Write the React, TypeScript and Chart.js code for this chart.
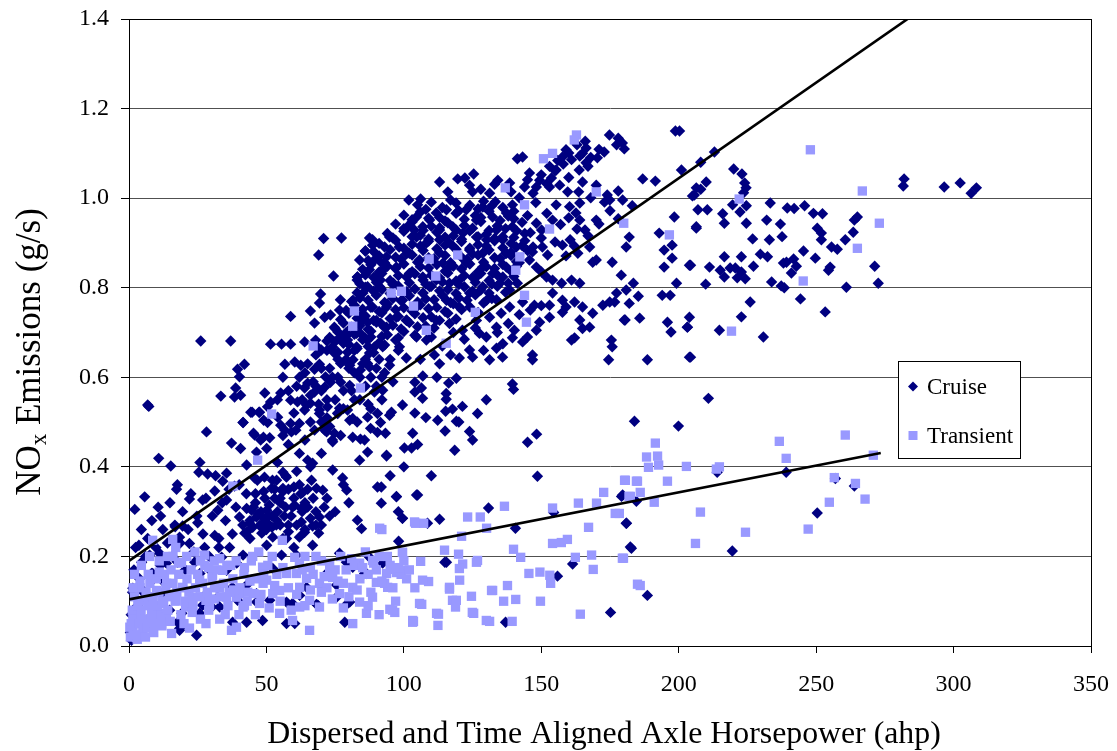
import React, { useEffect, useRef } from 'react';
import { Chart, registerables } from 'chart.js';

Chart.register(...registerables);

const xTickValues = [0, 50, 100, 150, 200, 250, 300, 350];
const yTickValues = [0, 0.2, 0.4, 0.6, 0.8, 1.0, 1.2, 1.4];
const seriesNames = ['Cruise', 'Transient'];
const xTitle = 'Dispersed and Time Aligned Axle Horsepower (ahp)';
const yTitleParts = ['NO', 'x', ' Emissions (g/s)'];

// Cruise points [ahp, g/s]
const cruisePoints: [number, number][] = [
  // right side, upper
  [200.3,1.150],[213,1.103],[208,1.08],[201,1.063],[220,1.065],[223,1.054],[210,1.036],[208,1.02],[224,1.034],[224.5,1.023],[223.6,1.012],[205,1.005],
  [282,1.043],[281.7,1.027],[296.6,1.025],[302.4,1.034],[306.4,1.011],[308.3,1.023],
  [219.6,0.985],[224.6,0.983],[222.3,0.969],[233.3,0.989],[207,0.974],[210.4,0.974],[216,0.965],[216.6,0.944],[224.6,0.944],[206.4,0.933],[232,0.951],[237,0.942],
  [239.5,0.978],[242,0.977],[245.8,0.983],[249,0.966],[252.3,0.965],[226.9,0.909],[233,0.907],[237.6,0.914],[250.4,0.933],[251.9,0.922],[251.9,0.907],[255.6,0.891],
  [257.7,0.886],[260.6,0.907],[263.5,0.924],[263.9,0.951],[265,0.958],[216.6,0.869],[222.8,0.869],[229.7,0.875],[232.3,0.869],[245.4,0.882],[249.7,0.866],
  [204.3,0.850],[211.2,0.846],[215.1,0.839],[218.7,0.844],[220.6,0.844],[222.8,0.835],[216.6,0.824],[221.3,0.822],[224.2,0.820],[227.2,0.848],[238.1,0.855],
  [239.2,0.857],[241.8,0.864],[242.8,0.848],[241,0.833],[255.1,0.846],[254.5,0.839],[271.3,0.848],[233.8,0.813],[237.3,0.804],[238.4,0.80],[209.8,0.808],
  [261,0.801],[272.6,0.81],[226,0.768],[244.3,0.775],[222.8,0.735],[253.3,0.746],[203.2,0.712],[214.8,0.705],[230.8,0.690],[204.3,0.645],
  // right side, lower
  [210.8,0.553],[183.9,0.502],[199.9,0.491],[214,0.388],[239.1,0.388],[263.9,0.357],[257,0.374],[179.6,0.337],[184.6,0.323],[180.9,0.274],[250.4,0.297],
  [182.4,0.221],[219.5,0.212],[188.6,0.113],
  // middle, below the fit
  [139.5,0.585],[139.9,0.573],[93.3,0.475],[93.7,0.424],[100.2,0.442],[102.8,0.442],[103.2,0.475],[99.5,0.538],[95.5,0.522],[94.8,0.515],[104,0.567],
  [106.4,0.576],[106.8,0.553],[104,0.589],[106.9,0.603],[115.4,0.564],[115.4,0.551],[115.2,0.524],[117.7,0.529],[121.3,0.535],[119.1,0.598],[116.3,0.587],
  [112.3,0.504],[119.1,0.502],[126.8,0.519],[123.9,0.479],[118.5,0.437],[145,0.455],[148.3,0.473],[148.6,0.379],[91.8,0.355],[97.3,0.334],[105,0.337],
  [91.8,0.319],[99.5,0.285],[113,0.283],[130.8,0.308],[140.6,0.263],[98.1,0.234],[108.6,0.274],[114.9,0.187],[161.4,0.183],[181,0.274],[182.8,0.218],
  [154.5,0.298],[179.2,0.334],[155.9,0.156],[175.2,0.075],[137,0.053],
  // left-middle cloud
  [70.8,0.910],[77.3,0.911],[69,0.873],[88.6,0.907],[86,0.882],[89.3,0.862],[91.5,0.858],[74.4,0.826],[83.1,0.824],[87.5,0.840],[91.5,0.817],[69.7,0.786],
  [69.3,0.766],[66,0.748],[76.9,0.773],[76.6,0.750],[73.3,0.739],[71.2,0.734],[58.8,0.736],[67.5,0.721],[74.7,0.712],[84.2,0.734],[86.8,0.723],[91.5,0.721],
  [26.1,0.681],[37,0.681],[51.5,0.674],[55.5,0.674],[58.8,0.674],[63.9,0.679],[67.9,0.683],[77,0.690],[79.5,0.683],[84.2,0.698],[86.8,0.683],[89.3,0.668],
  [74.7,0.654],[79.5,0.656],[56.7,0.629],[60.3,0.634],[62.5,0.627],[69.3,0.629],[67.5,0.618],[77,0.631],[80.3,0.627],[84.2,0.616],[86.8,0.631],[42,0.629],
  [39.5,0.618],[40.2,0.601],[71.5,0.601],[73.3,0.589],[65,0.587],[63.9,0.576],[67.5,0.567],[71.2,0.578],[77,0.589],[80.3,0.582],[89.3,0.567],[92.3,0.571],
  [7.2,0.535],[33.4,0.558],[38.8,0.576],[38.4,0.556],[40.6,0.560],[49.4,0.565],[55.2,0.565],[51.5,0.545],[50.4,0.534],[44.3,0.522],[47.5,0.522],[41.5,0.499],
  [49,0.504],[54.1,0.511],[58.8,0.549],[61.3,0.545],[63.9,0.527],[66,0.542],[69.3,0.519],[72.2,0.534],[75.9,0.519],[79.5,0.527],[80.3,0.504],[71.2,0.482],
  [74.7,0.475],[67.5,0.482],[58.8,0.497],[56.7,0.482],[60.7,0.482],[28.2,0.478],[37.3,0.453],[45.7,0.471],[47.9,0.460],[51.2,0.465],[87.9,0.486],[90.4,0.477],
  [84.2,0.462],[85.7,0.460],[91.5,0.499],[90.4,0.519],[86.8,0.511],
  // left, lower
  [6.8,0.538],[10.8,0.419],[15.2,0.402],[2.1,0.305],[5.7,0.333],[11.5,0.290],[17.3,0.350],[22,0.328],[25.4,0.388],[28.6,0.384],[26.8,0.326],[31.2,0.346],
  [35.5,0.386],[34.1,0.368],[38.4,0.357],[32.3,0.303],[35.5,0.326],[16.8,0.266],[19.5,0.268],[25,0.275],[18.4,0.243],[22,0.229],[27.5,0.220],[31.2,0.247],
  [32.7,0.220],[36.6,0.220],[3.6,0.225],[7.5,0.203],[11.1,0.207],[13.6,0.185],[8.6,0.162],[12.2,0.153],[17.7,0.187],[23.9,0.187],[25.8,0.162],[29.5,0.169],
  [33.7,0.198],[35.5,0.169],[39.2,0.185],[41.5,0.203],[44.8,0.522],[47.3,0.522],[41.5,0.499],[50.4,0.499],[55.2,0.493],[45.3,0.475],[48.9,0.466],[56,0.470],
  [40.6,0.441],[46.4,0.433],[50.1,0.441],[42.8,0.404],[45.7,0.375],[49.3,0.377],[53.7,0.370],[56,0.388],[51.9,0.352],[56,0.352],[57.3,0.377],
  [60.3,0.314],[62.7,0.307],[42.8,0.307],[40.2,0.288],[44.6,0.303],[46.4,0.288],[50.1,0.303],[53.7,0.281],[43.9,0.274],[47.5,0.269],[50.4,0.274],[42.1,0.252],
  [48.3,0.252],[52.3,0.243],[50.1,0.225],[57.3,0.240],[62,0.243],[66.8,0.225],[55.5,0.203],[60.9,0.203],[63.9,0.254],[69,0.252],[62.7,0.277],[66.8,0.268],
  [69.3,0.288],[66.4,0.370],[68.2,0.352],[63.2,0.343],[70.5,0.348],[74.1,0.393],[77.7,0.375],[79.2,0.348],[83.9,0.415],[86.8,0.433],[93.7,0.426],[90.4,0.355],
  [97.3,0.333],[104.6,0.337],[83.1,0.281],[84.6,0.262],[99.5,0.285],[76.6,0.531],[81.4,0.508],[71.9,0.478],[74.1,0.456],[81.4,0.466],[69.3,0.527],[64.6,0.538],
  [62,0.497],[59.1,0.478],[65,0.415],[66.8,0.408],[24.6,0.024],[28.2,0.117],[31.8,0.131],[37.6,0.131],[39.5,0.102],[26.8,0.091],[19.2,0.073],[18.4,0.035],
  [33,0.087],[48.6,0.057],[46.4,0.117],[51.2,0.102],[59.5,0.095],[60.3,0.05],[68.2,0.093],[75.5,0.109],[80.3,0.098],[76.6,0.207],[81.4,0.176],[87.5,0.198],
  [85.7,0.162],[92.3,0.185],[70.5,0.129],[64.6,0.131],[71.9,0.162],
  [4.6,0.187],[8.2,0.162],[1.4,0.129],[5.1,0.124],[18.4,0.039],[25.7,0.073],[30.1,0.087],[32.3,0.109],[37.7,0.053],[42.8,0.053],[42.8,0.136],[46.4,0.098],
  [57.3,0.098],[57.3,0.050],[62.1,0.113],[68.7,0.091],[75.5,0.136],[79.5,0.095],[78.5,0.053],[86.4,0.162],[79.1,0.187],[115.5,0.187],[52.3,0.173],[17.7,0.053],
  [14.8,0.080],[11.9,0.117],[7.5,0.064],[0.9,0.013],
  [0.5,0.03],[0.8,0.07],[1.3,0.12],[1.8,0.17],[2.4,0.22],[3.1,0.09],[3.8,0.15],[4.5,0.26],[5.2,0.12],[6,0.2],[6.8,0.24],[7.5,0.1],[8.3,0.28],[9,0.15],
  [9.8,0.22],[10.6,0.31],[11.4,0.18],[12.3,0.26],[13.1,0.14],[14,0.23],[14.9,0.32],[15.8,0.2],[16.7,0.27],[17.6,0.36],[18.6,0.23],[19.5,0.3],[20.5,0.17],
  [21.5,0.26],[22.5,0.34],[23.6,0.21],[24.7,0.29],[25.8,0.41],[26.9,0.25],[28,0.33],[29.2,0.2],[30.3,0.29],[31.5,0.38],[32.7,0.24],[33.9,0.32],[35.1,0.28],
  [36.4,0.35],[37.6,0.25],[38.9,0.31],[40.1,0.36],[41.4,0.27],[42.7,0.34],[44,0.24],[45.3,0.31],[46.7,0.37],[48,0.27],[49.4,0.33],[50.8,0.29],[52.2,0.37],
  [53.6,0.27],[55,0.33],[56.5,0.29],[58,0.35],[59.5,0.31],[61,0.39],[62.5,0.34],
  [48,0.3],[52,0.29],[55,0.32],[58,0.27],[60,0.33],[50,0.26],[53,0.35],[57,0.38],[62,0.36],[65,0.31],[46,0.34],[44,0.28],[56,0.24],[60,0.22],[64,0.26],
  [68,0.3],[72,0.33],[70,0.27],[75,0.3],[78,0.36],[80,0.32],[66,0.4],[70,0.43],[74,0.46],[62,0.43],[58,0.45],[54,0.41],
  [45,0.265],[47,0.295],[49,0.285],[51,0.315],[52,0.265],[54,0.3],[55,0.27],[57,0.31],[58,0.255],[59,0.29],[61,0.27],[63,0.3],[64,0.32],[66,0.285],
  [67,0.33],[68,0.27],[53,0.33],[49,0.345],[46,0.32],[56,0.345],[60,0.355],[65,0.35],[71,0.31],[73,0.29],[43,0.255],
  [60,0.52],[63,0.55],[66,0.5],[68,0.58],[70,0.62],[72,0.55],[74,0.6],[76,0.64],[78,0.57],[80,0.62],[82,0.66],[84,0.6],[86,0.64],[88,0.69],[90,0.62],
  [62,0.6],[65,0.63],[58,0.57],[56,0.6],[54,0.55],[72,0.66],[75,0.68],[79,0.7],[68,0.65],[64,0.46],[70,0.5],[76,0.52],[82,0.55],[86,0.58],[92,0.6],[95,0.64],[98,0.66],
  [61,0.58],[64,0.61],[67,0.59],[70,0.57],[73,0.62],[76,0.6],[79,0.64],[82,0.61],[85,0.63],[88,0.6],[91,0.64],[66,0.56],[69,0.54],[72,0.51],[75,0.55],
  [78,0.53],[81,0.57],[84,0.55],[87,0.54],[90,0.58],[93,0.61],[96,0.59],[73,0.49],[77,0.47],[83,0.5],[88,0.53],
  [100,0.4],[105,0.45],[110,0.38],[115,0.48],[120,0.5],[125,0.46],[130,0.55],[108,0.51],[112,0.6],[95,0.38],[98,0.3],[104,0.52],[92,0.55],
  [110,0.69],[114,0.67],[118,0.7],[122,0.685],[126,0.71],[130,0.69],[134,0.7],[138,0.72],[142,0.74],[146,0.75],[150,0.76],[117,0.65],[125,0.645],
  [113,0.63],[106,0.64],[129,0.66],[136,0.675],[145,0.69],
  // upper main cloud
  [198.8,1.15],[174.8,1.141],[178,1.134],[179.5,1.123],[180.2,1.110],[177.4,1.119],[172.9,1.103],[170.4,1.090],[166.3,1.112],[165,1.10],[159,1.108],
  [157.7,1.092],[166.3,1.079],[163.8,1.063],[143.2,1.092],[141.3,1.088],[155.4,1.063],[145.7,1.056],[153.7,1.045],[165,1.036],[186.9,1.043],[191.5,1.038],
  [149.4,1.040],[148.2,1.025],[153,1.025],[156.7,1.029],[159.6,1.014],[163.6,1.014],[170,1.029],[174,1.007],[178,1.016],[174.9,0.996],[179.6,0.996],
  [183.1,0.983],[198.4,0.958],[206.4,1.023],[205.7,1.007],[206.4,0.936],[192.9,0.922],[194.7,0.884],[197.6,0.895],[194.7,0.846],[197.6,0.866],[203.9,0.850],
  [182,0.913],[180.9,0.891],[175.8,0.857],[179.1,0.828],[170,0.862],[183.5,0.810],[177.4,0.788],[176.7,0.768],[174.9,0.768],[172.4,0.761],[168.7,0.743],
  [164,0.728],[165,0.709],[162.1,0.768],[161,0.683],[162.1,0.688],[175.5,0.683],[175.8,0.668],[180.5,0.728],[185.3,0.781],[188.6,0.639],[194,0.783],
  [196.9,0.783],[195.9,0.723],[197.2,0.701],[203.1,0.712],[203.9,0.645],[174.5,0.639],[153,0.734],[149.4,0.723],[148.2,0.705],[143.2,0.679],[146.8,0.650],
  [146.8,0.639],[139.5,0.688],[140.2,0.705],[133.7,0.665],[131.2,0.639],[135.9,0.645],[123.9,0.661],[120.2,0.643],[111.1,0.650],[100.9,0.643],[94.8,0.627],
  [113,1.036],[119.6,1.043],[122.2,1.045],[125.4,1.054],[123.9,1.029],[125,1.014],[116,1.014],[101.8,0.996],[106.1,0.998],[131.2,1.011],[134.2,1.040],
  [138.5,1.034],[133.3,0.992],[139.5,0.985],[143.9,1.025],[87.5,0.911],[88.6,0.895],[94.8,0.913],[86,0.882],[83.9,0.862],[83.1,0.824],[86.8,0.802],[90,0.824],
  [101.3,0.936],[103.8,0.929],[98.3,0.891],
  [151.9,0.824],[154.1,0.817],[150.1,0.835],[157.4,0.810],[161,0.817],[164,0.810],[168.7,0.857],[163.3,0.877],[160.5,0.907],[157.7,0.895],[167.6,0.891],
  [165.9,0.929],[170,0.951],[164,0.951],[154.1,0.951],[150.1,0.929],[148.2,0.944],[155.4,0.985],[160.3,0.981],[162.6,0.967],[152.3,0.873],[150.4,0.891],
  [146.8,0.880],[145.7,0.862],[148.2,0.846],[157.7,0.772],[159,0.757],[153,0.761],[154.1,0.788],[147.5,0.761],[143.2,0.768],[138.5,0.795],[141.3,0.810],
  [133.7,0.773],[138.5,0.757],[135.4,0.743],[131.2,0.734],[133.7,0.712],[127.5,0.698],[121.3,0.705],[126.4,0.727],[116.6,0.720],[111.8,0.727],[108.2,0.683],
  [104.6,0.690],[98.4,0.668],[92.3,0.668],[87.5,0.654],[82.8,0.698],[85.1,0.727],[90,0.727],[93.7,0.712],[88.6,0.757],[93.7,0.757],[97.3,0.734],[100.9,0.727],
  [104.6,0.757],[99.5,0.772],[106.9,0.788],[109.4,0.802],[115.5,0.772],[120.2,0.757],[123.9,0.788],[130.1,0.772],[128.7,0.802],[134.9,0.810],[132.3,0.832],
  [137.3,0.846],[137.3,0.877],[140.9,0.891],[136,0.907],[133.7,0.929],[139.5,0.936],[132.3,0.958],[137.3,0.967],[128.7,0.980],[126.4,0.951],[122.7,0.974],
  [119,0.989],[115.5,0.974],[111.8,0.967],[109.4,0.951],[104.6,0.958],[106.9,0.936],[113,0.929],[117.8,0.936],[121.5,0.922],[126.4,0.913],[130.1,0.907],
  [128.7,0.877],[123.9,0.884],[116.6,0.900],[113,0.907],[108.2,0.900],[104.6,0.913],[102,0.877],[105.7,0.862],[114.2,0.855],[116.6,0.846],[122.7,0.855],
  [128.7,0.846],[126.4,0.824],[120.2,0.817],[116.6,0.810],[111.8,0.817],[106.9,0.824],[102,0.832],[97.3,0.846],[93.7,0.869],[92.3,0.839],[91.2,0.802],
  [96.2,0.810],[85.1,0.788],[81.5,0.772],[83.9,0.734],[82.8,0.668],[81.5,0.639],[87.5,0.623],
  [157.7,0.745],[165,0.757],[167.6,0.712],[180.9,0.795],[185.8,0.732],[182,0.765],[199.2,0.810],[203.9,0.734],[180.2,0.728],
  // dense core
  [105,0.985],[110,0.991],[117,0.996],[124,0.984],[129,0.993],[136,0.979],
  [100,0.962],[106,0.969],[113,0.957],[119,0.966],[126,0.961],[131,0.971],[140,0.954],
  [97,0.942],[103,0.947],[110,0.937],[116,0.945],[122,0.939],[128,0.948],[134,0.938],[143,0.946],
  [94,0.921],[100,0.926],[106,0.917],[112,0.924],[118,0.916],[124,0.927],[130,0.919],[136,0.914],[146,0.923],
  [91,0.899],[97,0.906],[103,0.897],[109,0.904],[115,0.895],[121,0.903],[127,0.896],[133,0.905],[139,0.899],
  [89,0.881],[95,0.885],[101,0.876],[107,0.883],[113,0.878],[119,0.886],[125,0.875],[131,0.884],[137,0.877],[145,0.883],
  [87,0.861],[93,0.856],[99,0.864],[105,0.857],[111,0.865],[117,0.856],[123,0.863],[129,0.857],[135,0.865],[142,0.856],
  [85,0.841],[91,0.835],[97,0.843],[103,0.836],[109,0.844],[115,0.837],[121,0.842],[127,0.835],[133,0.843],[139,0.837],
  [83,0.817],[89,0.823],[95,0.816],[101,0.824],[107,0.817],[113,0.822],[119,0.815],[125,0.823],[131,0.816],[136,0.824],
  [86,0.801],[92,0.796],[98,0.804],[104,0.797],[110,0.803],[116,0.796],[122,0.802],[128,0.795],[134,0.803],
  [84,0.777],[90,0.783],[96,0.776],[102,0.782],[108,0.775],[114,0.783],[120,0.777],[126,0.784],[132,0.776],
  [82,0.761],[88,0.756],[94,0.763],[100,0.755],[106,0.762],[112,0.756],[118,0.764],[124,0.757],
  [80,0.743],[86,0.737],[92,0.744],[98,0.736],[104,0.742],[110,0.735],[116,0.743],
  [78,0.721],[84,0.715],[90,0.723],[96,0.716],[102,0.722],[108,0.714],
  [76,0.701],[82,0.696],[88,0.703],[94,0.695],[100,0.702],
  [72,0.681],[78,0.676],[85,0.684],[91,0.677],[97,0.683],
  [70,0.661],[76,0.656],[83,0.664],[89,0.655],
  [108,0.975],[114,0.979],[120,0.972],[127,0.976],[132,0.983],
  [103,0.952],[109,0.955],[115,0.949],[122,0.953],[128,0.957],[135,0.95],[138,0.96],
  [100,0.932],[107,0.928],[113,0.934],[119,0.929],[125,0.933],[131,0.928],[137,0.932],[141,0.927],
  [96,0.911],[103,0.914],[109,0.909],[115,0.913],[121,0.908],[127,0.914],[133,0.91],[140,0.912],[144,0.905],
  [93,0.891],[100,0.888],[106,0.893],[112,0.887],[118,0.892],[124,0.888],[130,0.893],[136,0.889],[143,0.894],
  [91,0.871],[97,0.868],[103,0.873],[109,0.867],[115,0.872],[121,0.868],[127,0.873],[133,0.867],[139,0.872],
  [88,0.851],[94,0.848],[100,0.853],[106,0.847],[112,0.852],[118,0.848],[124,0.853],[130,0.847],[136,0.852],[141,0.848],
  [86,0.829],[92,0.832],[98,0.827],[104,0.831],[110,0.828],[116,0.833],[122,0.827],[128,0.832],[134,0.828],[140,0.825],
  [84,0.809],[90,0.812],[96,0.807],[102,0.811],[108,0.808],[114,0.813],[120,0.807],[126,0.812],[132,0.808],[138,0.81],
  [83,0.789],[89,0.792],[95,0.787],[101,0.791],[107,0.788],[113,0.793],[119,0.787],[125,0.792],[131,0.788],[137,0.79],
  [81,0.769],[87,0.772],[93,0.767],[99,0.771],[105,0.768],[111,0.773],[117,0.767],[123,0.772],[129,0.766],
  [79,0.749],[85,0.752],[91,0.747],[97,0.751],[103,0.748],[109,0.753],[115,0.747],[121,0.751],[127,0.745],
  [77,0.729],[83,0.732],[89,0.727],[95,0.731],[101,0.728],[107,0.733],[113,0.727],[119,0.73],
  [75,0.709],[81,0.712],[87,0.707],[93,0.711],[99,0.708],[105,0.713],[111,0.71],
  [73,0.689],[79,0.692],[86,0.687],[92,0.691],[98,0.688],[104,0.694],
  [68,0.671],[74,0.668],[80,0.673],[87,0.669],[93,0.672],
  [128,1.02],[133,1.031],[139,1.014],[145,1.041],[150,1.052],[155,1.061],[158,1.076],[161,1.086],[164,1.094],[167,1.071],[160,1.046],[152,1.032],[147,1.011],[142,1.001],
  [160,1.101],[163,1.119],[166,1.127],[168,1.091],[171,1.109],[156,1.084],[153,1.071],
  [140,0.971],[145,0.961],[148,0.99],[152,0.966],[157,0.941],[160,0.956],[163,0.931],[167,0.916],[171,0.942],[175,0.972],[178,0.954],[173,0.991],[168,1.001],
  [164,0.989],[150,0.911],[147,0.891],[155,0.902],[159,0.871],[162,0.893],[144,0.921],[139,0.879],[141,0.858]
];

// Transient points [ahp, g/s]
const transientPoints: [number, number][] = [
  [247.9,1.108],[266.8,1.016],[222,0.998],[273,0.944],[265,0.888],[245.3,0.815],[219.2,0.703],
  [191.5,0.453],[188.3,0.422],[192.3,0.424],[192.7,0.404],[189,0.399],[202.8,0.401],[213.7,0.395],[214.8,0.40],[236.6,0.457],[239.1,0.419],[260.6,0.471],
  [270.8,0.426],[180.3,0.370],[185,0.368],[195.9,0.368],[181.9,0.334],[186,0.343],[191.1,0.321],[207.9,0.299],[256.6,0.376],[264.3,0.363],[254.8,0.321],
  [267.8,0.328],[224.3,0.254],[206.1,0.229],[247.1,0.261],[179.9,0.196],[186,0.135],[178.4,0.296],
  [92,0.26],[104.3,0.274],[107.2,0.274],[123.2,0.288],[127.8,0.288],[130.1,0.263],[136.6,0.312],[121,0.245],[154.1,0.308],[163.5,0.319],[170.1,0.319],
  [172.7,0.343],[180.6,0.370],[184.6,0.368],[182.4,0.334],[176.9,0.296],[167.2,0.265],[154.1,0.229],[157.3,0.231],[159.5,0.238],[99.5,0.209],[114.8,0.214],
  [119.9,0.205],[121.4,0.183],[126.8,0.191],[139.9,0.216],[142.5,0.198],[162.4,0.198],[168.3,0.203],[179.5,0.196],[168.9,0.171],[106.1,0.189],[95.9,0.171],
  [98.8,0.169],[94.1,0.131],[109,0.144],[116.6,0.127],[120.3,0.147],[145.5,0.162],[149.5,0.165],[153.1,0.158],[153.4,0.140],[131.9,0.124],[137.7,0.135],
  [124.6,0.111],[117.7,0.102],[118.8,0.087],[136.3,0.1],[140.7,0.104],[149.7,0.10],[106.5,0.093],[94.9,0.082],[96.7,0.075],[125.4,0.073],[112.6,0.071],
  [103.5,0.055],[112.4,0.046],[131.2,0.055],[139.4,0.055],[164.2,0.071],[185,0.138],
  [162.8,1.141],[162,1.13],[154.1,1.10],[150.8,1.088],[170,1.014],[180,0.944],[196.6,0.918],[115.4,0.676],[108.2,0.705],[126,0.745],[144.6,0.723],
  [143.9,0.783],[140.7,0.839],[142.2,0.869],[153,0.931],[143.9,0.985],[136.9,1.023],[119.6,0.873],[109.2,0.864],[111.6,0.826],[99.1,0.792],[95.4,0.788],
  [103.5,0.759],[82,0.748],[81.4,0.714],[67,0.67],[84.2,0.576],[51.9,0.518],
  [8.6,0.236],[15.9,0.238],[19.1,0.187],[27.5,0.203],[46.8,0.415],[37.8,0.357],[55.8,0.236],[60.3,0.198],[48.6,0.176],[39.1,0.109],[91.2,0.263],
  [103.9,0.277],[99.5,0.209],[83.9,0.185],[97.3,0.164],[103.2,0.053],[88.6,0.191],
  [1.4,0.064],[0.3,0.042],[2.7,0.019],[6.4,0.042],[3.9,0.080],[8.6,0.053],[11.1,0.073],[13.6,0.064],[15.5,0.028],[12.6,0.095],[17,0.102],[20.6,0.087],
  [23,0.109],[28,0.102],[19.5,0.131],[13.7,0.140],[10,0.124],[8.6,0.102],[25.7,0.147],[30.4,0.158],[34.1,0.169],[33,0.131],[35.5,0.109],[40.2,0.117],
  [41.5,0.087],[37.3,0.035],[39.1,0.042],[45.3,0.117],[47.5,0.095],[50.1,0.147],[52.3,0.117],[54.8,0.124],[57.3,0.162],[60.9,0.162],[62.1,0.131],[64.6,0.151],
  [65.7,0.102],[62.1,0.087],[59.5,0.057],[65.7,0.035],[54.8,0.073],[69.3,0.087],[69.3,0.140],[73,0.169],[74.1,0.153],[76.6,0.117],[81.4,0.131],[83.9,0.098],
  [81.4,0.050],[86.4,0.073],[88.6,0.109],[90,0.142],[93.7,0.162],[95.9,0.080],[105.7,0.095],[103.2,0.057],[106.8,0.147],[111.9,0.073],[116.6,0.131],
  [119.1,0.102],[124.9,0.075],[130,0.057],[132.3,0.124],[126.4,0.187],[120.2,0.173],
  [64,0.2],[67,0.16],[70,0.19],[72,0.13],[75,0.17],[77,0.2],[78,0.14],[80,0.11],[82,0.18],[84,0.15],[86,0.21],[88,0.12],[90,0.17],[91,0.2],[93,0.14],
  [95,0.18],[97,0.1],[99,0.16],[100,0.19],
  [0.5,0.02],[0.8,0.05],[1.2,0.08],[1.5,0.035],[2,0.11],[2.3,0.06],[2.8,0.025],[3.2,0.09],[3.6,0.05],[4,0.13],[4.4,0.07],[5,0.03],[5.3,0.1],[5.8,0.06],
  [6.2,0.12],[6.7,0.04],[7.1,0.09],[7.6,0.14],[8.2,0.07],[8.8,0.11],[9.3,0.05],[9.9,0.15],[10.4,0.09],[10.9,0.12],[11.6,0.06],[12.2,0.1],[12.9,0.16],
  [13.4,0.13],[14.1,0.08],[14.7,0.11],[15.3,0.17],[16,0.14],[16.8,0.1],[17.4,0.12],[18.1,0.16],[18.9,0.07],[19.6,0.13],[20.3,0.1],[21.1,0.15],[21.8,0.12],
  [22.6,0.17],[23.3,0.09],[24.2,0.13],[25,0.16],[25.9,0.11],[26.7,0.14],[27.6,0.18],[28.5,0.12],[29.3,0.09],[30.2,0.15],[31.1,0.13],[32,0.17],[33.2,0.11],
  [34.4,0.14],[35.6,0.18],[36.5,0.12],[37.8,0.15],[39,0.19],[40.4,0.13],[41.8,0.16],[43.2,0.12],[44.5,0.19],[45.9,0.15],[47.2,0.21],[48.8,0.14],[50.5,0.18],
  [52.1,0.2],[53.8,0.16],[3,0.015],[6,0.02],[9,0.03],[12,0.045],[15,0.055],[2,0.16],[4.5,0.18],[7.5,0.2],[11,0.19],[14,0.2],[17,0.22],[24,0.21],[31,0.19],
  [35,0.07],[42,0.09],[28,0.05],[22,0.04],
  [20,0.05],[23,0.075],[26,0.06],[29,0.08],[31,0.105],[33,0.06],[36,0.09],[38,0.125],[40,0.07],[43,0.1],[44,0.145],[46,0.07],[48,0.115],[49,0.16],
  [51,0.085],[53,0.135],[55,0.1],[56,0.175],[58,0.13],[59,0.08],[61,0.115],[63,0.17],[64,0.09],[66,0.125],[26,0.19],[29,0.175],[33,0.195],[37,0.18],
  [42,0.175],[45,0.2],[21,0.2],[18,0.185],[16,0.2],[11,0.165],[7,0.16],[4,0.145],[1.5,0.13],
  [62,0.185],[66,0.175],[68,0.2],[71,0.155],[73,0.185],[76,0.145],[79,0.17],[81,0.195],[83,0.125],[85,0.175],[87,0.16],[89,0.185],[92,0.145],[94,0.2],
  [96,0.13],[98,0.175],[101,0.15],[102,0.17],[104,0.13],[70,0.12],[74,0.105],[87,0.09],[91,0.07],[78,0.085]
];

// Linear fits (end points)
const cruiseFitX = [0, 309];
const cruiseFitY = [0.19, 1.51];
const transientFitX = [0, 273.5];
const transientFitY = [0.104, 0.431];

const CRUISE_COLOR = '#000080';
const TRANSIENT_COLOR = '#9999FF';
const FONT = "'Liberation Serif', 'Times New Roman', serif";

const toXY = (pts: [number, number][]) => pts.map(([x, y]) => ({ x, y }));
const fitXY = (xs: number[], ys: number[]) => xs.map((x, i) => ({ x, y: ys[i] }));

const overlayPlugin = {
  id: 'overlay',
  beforeDatasetsDraw(chart: any) {
    const { ctx, chartArea: a } = chart;
    ctx.save();
    ctx.strokeStyle = '#000';
    ctx.lineWidth = 1;
    ctx.strokeRect(Math.round(a.left) + 0.5, Math.round(a.top) + 0.5, Math.round(a.right - a.left), Math.round(a.bottom - a.top));
    ctx.restore();
  },
  afterDraw(chart: any) {
    const { ctx } = chart;
    ctx.save();
    ctx.fillStyle = '#000';
    ctx.font = `31.8px ${FONT}`;
    ctx.textAlign = 'center';
    ctx.textBaseline = 'alphabetic';
    ctx.fillText(xTitle, 604, 743);

    const mainFont = `35px ${FONT}`;
    const subFont = `23px ${FONT}`;
    ctx.font = mainFont;
    const w0 = ctx.measureText(yTitleParts[0]).width;
    const w2 = ctx.measureText(yTitleParts[2]).width;
    ctx.font = subFont;
    const w1 = ctx.measureText(yTitleParts[1]).width;
    const total = w0 + w1 + w2;
    ctx.translate(40, 352);
    ctx.rotate(-Math.PI / 2);
    ctx.textAlign = 'left';
    let x = -total / 2;
    ctx.font = mainFont;
    ctx.fillText(yTitleParts[0], x, 0);
    x += w0;
    ctx.font = subFont;
    ctx.fillText(yTitleParts[1], x, 6);
    x += w1;
    ctx.font = mainFont;
    ctx.fillText(yTitleParts[2], x, 0);
    ctx.restore();

    ctx.save();
    ctx.fillStyle = '#fff';
    ctx.fillRect(898, 361, 123, 98);
    ctx.strokeStyle = '#000';
    ctx.lineWidth = 1;
    ctx.strokeRect(898.5, 361.5, 122, 97);
    ctx.fillStyle = CRUISE_COLOR;
    ctx.beginPath();
    ctx.moveTo(913, 381.5);
    ctx.lineTo(918, 386.5);
    ctx.lineTo(913, 391.5);
    ctx.lineTo(908, 386.5);
    ctx.closePath();
    ctx.fill();
    ctx.fillStyle = TRANSIENT_COLOR;
    ctx.fillRect(908.5, 431, 9, 9);
    ctx.fillStyle = '#000';
    ctx.font = `23px ${FONT}`;
    ctx.textAlign = 'left';
    ctx.textBaseline = 'alphabetic';
    ctx.fillText(seriesNames[0], 927, 394);
    ctx.fillText(seriesNames[1], 927, 443);
    ctx.restore();
  }
};

export default function App() {
  const ref = useRef<HTMLCanvasElement>(null);
  useEffect(() => {
    if (!ref.current) return;
    const chart = new Chart(ref.current, {
      type: 'scatter',
      data: {
        datasets: [
          { label: 'Cruise fit', data: fitXY(cruiseFitX, cruiseFitY), showLine: true, borderColor: '#000', borderWidth: 2.6, pointRadius: 0 },
          { label: 'Transient fit', data: fitXY(transientFitX, transientFitY), showLine: true, borderColor: '#000', borderWidth: 2.6, pointRadius: 0 },
          {
            label: seriesNames[1],
            data: toXY(transientPoints),
            pointStyle: 'rect',
            pointRadius: 6.6,
            backgroundColor: TRANSIENT_COLOR,
            borderWidth: 0,
            clip: false as any,
          },
          {
            label: seriesNames[0],
            data: toXY(cruisePoints),
            pointStyle: 'rectRot',
            pointRadius: 5.7,
            backgroundColor: CRUISE_COLOR,
            borderWidth: 0,
            clip: false as any,
          },
        ],
      } as any,
      options: {
        animation: false,
        responsive: false,
        devicePixelRatio: 1,
        events: [],
        layout: { padding: { top: 19, right: 26, left: 0, bottom: 0 } },
        plugins: { legend: { display: false }, tooltip: { enabled: false }, title: { display: false } },
        scales: {
          x: {
            type: 'linear',
            min: 0,
            max: 350,
            afterBuildTicks: (s: any) => { s.ticks = xTickValues.map((v) => ({ value: v })); },
            afterFit: (s: any) => { s.height = 105; s.paddingLeft = 0; s.paddingRight = 0; },
            ticks: { color: '#000', font: { family: FONT, size: 24 }, padding: 17, maxRotation: 0, callback: (v: any) => String(v) },
            grid: { drawOnChartArea: false, drawTicks: true, tickLength: 7, tickColor: '#000' },
            border: { display: true, color: '#000', width: 1 },
          },
          y: {
            type: 'linear',
            min: 0,
            max: 1.4,
            afterBuildTicks: (s: any) => { s.ticks = yTickValues.map((v) => ({ value: v })); },
            afterFit: (s: any) => { s.width = 129; s.paddingTop = 0; s.paddingBottom = 0; },
            ticks: { color: '#000', font: { family: FONT, size: 24 }, padding: 12, callback: (v: any) => Number(v).toFixed(1) },
            grid: { color: '#505050', lineWidth: 1, drawTicks: true, tickLength: 8, tickColor: '#000' },
            border: { display: true, color: '#000', width: 1 },
          },
        },
      } as any,
      plugins: [overlayPlugin],
    });
    return () => chart.destroy();
  }, []);
  return (
    <div style={{ position: 'fixed', left: 0, top: 0, width: 1117, height: 751, background: '#fff' }}>
      <canvas ref={ref} width={1117} height={751} style={{ display: 'block' }} />
    </div>
  );
}
